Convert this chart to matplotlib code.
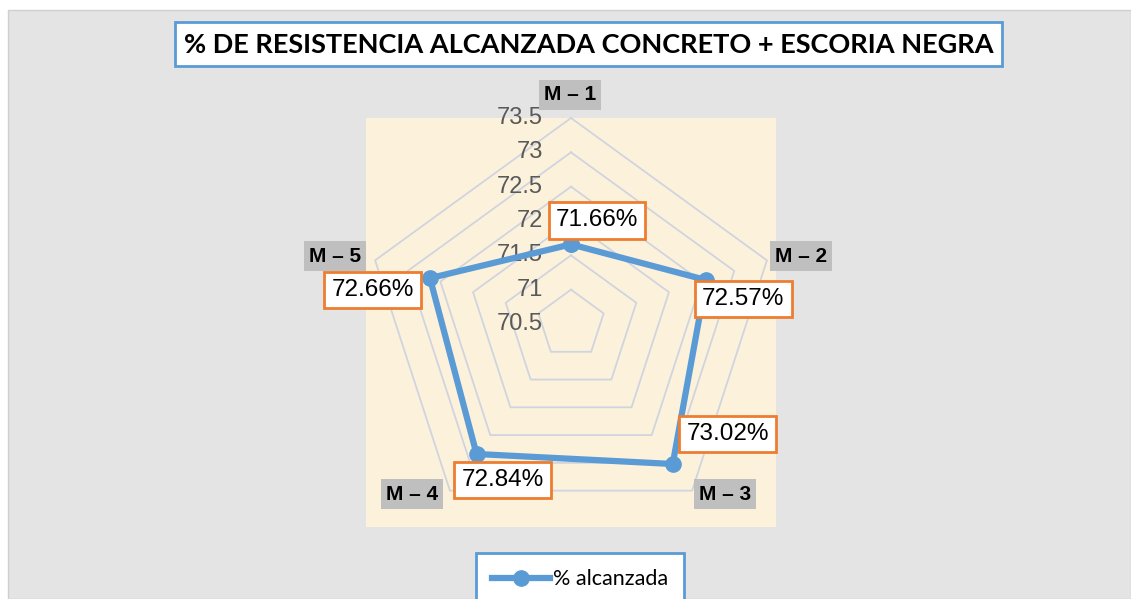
import numpy as np
import matplotlib
matplotlib.use("Agg")
import matplotlib.pyplot as plt
from matplotlib.patches import Rectangle
from matplotlib.lines import Line2D

# ---- data ----
categories = ["M – 1", "M – 2", "M – 3", "M – 4", "M – 5"]
values = [71.66, 72.57, 73.02, 72.84, 72.66]
value_labels = ["71.66%", "72.57%", "73.02%", "72.84%", "72.66%"]
r_ticks = [70.5, 71.0, 71.5, 72.0, 72.5, 73.0, 73.5]
r_tick_labels = ["70.5", "71", "71.5", "72", "72.5", "73", "73.5"]
series_name = "% alcanzada"
title = "% DE RESISTENCIA ALCANZADA CONCRETO + ESCORIA NEGRA"

W, H = 1131, 599
fig = plt.figure(figsize=(W / 100, H / 100), dpi=100)
fig.patch.set_facecolor("white")

def fx(px):
    return px / W

def fy(py):
    return 1 - py / H

def frect(x0, y0, x1, y1, **kw):
    return Rectangle((fx(x0), fy(y1)), (x1 - x0) / W, (y1 - y0) / H,
                     transform=fig.transFigure, **kw)

# background (marble approximated by a light grey)
fig.patches.append(frect(8, 10, 1131, 599, facecolor="#e4e4e4",
                         edgecolor="#cfcfcf", lw=1, zorder=0))
# plot area (cream)
fig.patches.append(frect(366, 118, 776, 527, facecolor="#fcf2dc",
                         edgecolor="none", zorder=1))

# title box
fig.patches.append(frect(175, 22, 1002, 66, facecolor="white",
                         edgecolor="#5b9bd5", lw=2, zorder=2))
t = fig.text(fx(588.5), fy(45), title, ha="center", va="center",
             fontsize=22, fontweight="bold",
             family=["Liberation Sans Narrow", "Lato", "DejaVu Sans"],
             color="black", zorder=3)
fig.canvas.draw()
bb = t.get_window_extent()
t.set_fontsize(22 * 810 / bb.width)

# polar axes
cx, cy, R = 571, 324, 206
ax = fig.add_axes([fx(cx - R), fy(cy + R), 2 * R / W, 2 * R / H],
                  projection="polar", zorder=5)
ax.patch.set_alpha(0)
ax.set_theta_zero_location("N")
ax.set_theta_direction(-1)
ax.set_ylim(r_ticks[0], r_ticks[-1])
ax.grid(False)
ax.spines["polar"].set_visible(False)
ax.set_xticks([])
ax.set_yticks([])

n = len(categories)
theta = np.deg2rad(np.arange(n) * 360.0 / n)
theta_c = np.append(theta, theta[0])

# pentagon gridlines
for rv in r_ticks[1:]:
    ax.plot(theta_c, [rv] * (n + 1), color="#d0d4de", lw=1.3, zorder=1,
            clip_on=False)

# radial tick labels
for rv, lab in zip(r_ticks, r_tick_labels):
    ax.annotate(lab, xy=(0, rv), xytext=(-28, 0), textcoords="offset pixels",
                ha="right", va="center", color="#595959", fontsize=17,
                family="Liberation Sans", zorder=2, annotation_clip=False)

# series
vals_c = np.append(values, values[0])
line, = ax.plot(theta_c, vals_c, color="#5b9bd5", lw=4.5, marker="o",
                markersize=11, zorder=4, clip_on=False, label=series_name)

# data labels
offsets = [(26, 24), (37, -19), (55, 30), (26, -26), (-57, -12)]
for th, v, lab, off in zip(theta, values, value_labels, offsets):
    ax.annotate(lab, xy=(th, v), xytext=off, textcoords="offset pixels",
                ha="center", va="center", fontsize=17.5,
                family="Liberation Sans", color="black", zorder=6,
                annotation_clip=False,
                bbox=dict(boxstyle="square,pad=0.3", facecolor="white",
                          edgecolor="#ed7d31", lw=2))

# category labels
cat_pos = [(570, 95), (801, 256), (725, 494), (412, 494), (335, 256)]
for lab, (px, py) in zip(categories, cat_pos):
    fig.text(fx(px), fy(py), lab, ha="center", va="center", fontsize=15,
             fontweight="bold", family="Liberation Sans", color="black",
             zorder=6,
             bbox=dict(boxstyle="square,pad=0.25", facecolor="#bfbfbf",
                       edgecolor="none"))

# legend
leg = fig.legend(handles=[line], labels=[series_name], loc="upper center",
                 bbox_to_anchor=(fx(580), fy(553)), frameon=True,
                 fancybox=False, prop={"family": "Lato", "size": 15.5},
                 handlelength=2.7, handletextpad=0.15, borderpad=0.75,
                 borderaxespad=0)
leg.get_frame().set_edgecolor("#5b9bd5")
leg.get_frame().set_linewidth(2)
leg.get_frame().set_facecolor("white")
leg.get_frame().set_alpha(1)
leg.set_zorder(10)

fig.savefig("out.png", dpi=100)
